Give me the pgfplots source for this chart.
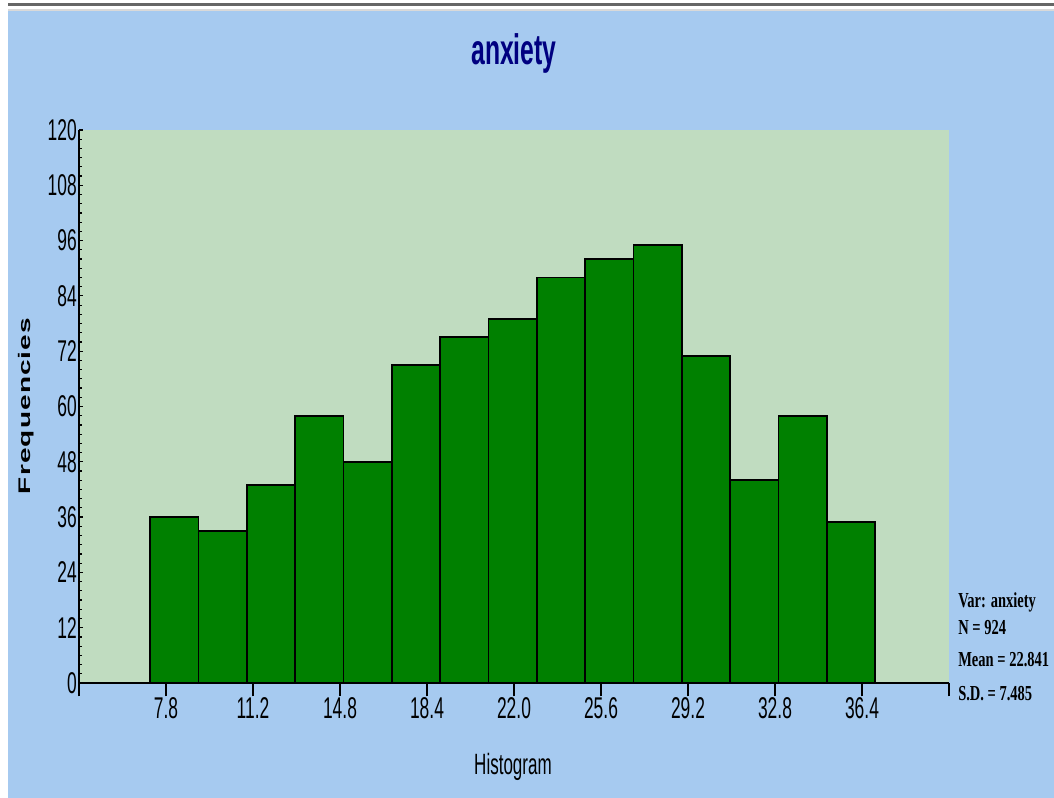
\documentclass[border=0pt]{standalone}
\usepackage{pgfplots}
\pgfplotsset{compat=1.18}
\usepackage{fontspec}
\setmainfont{Liberation Sans}
\newfontfamily\narrowsans[FakeStretch=0.58]{Liberation Sans}
\newfontfamily\spacedsans[LetterSpace=4]{Liberation Sans}
\newfontfamily\narrowserif[FakeStretch=0.68]{Liberation Serif}
\definecolor{skyblue}{HTML}{A6CAF0}
\definecolor{moneygreen}{HTML}{C0DCC0}
\definecolor{bargreen}{HTML}{008000}
\definecolor{navytitle}{HTML}{000080}
\pgfplotsset{
  basebox/.style={
    at={(59.25pt,86.25pt)}, anchor=south west,
    scale only axis, width=652.5pt, height=414.75pt,
    xmin=4.2, xmax=40.2, ymin=0, ymax=120,
    axis line style={black, line width=1.3pt},
    /pgf/number format/assume math mode=true,
    ticklabel style={font=\narrowsans\fontsize{22.5}{22.5}\selectfont, text=black},
    clip=false,
  }
}
\begin{document}
\begin{tikzpicture}
% page: 1054 x 798 px, 1 px = 0.75 pt
\fill[white] (0,0) rectangle (790.5pt,598.5pt);
\fill[skyblue] (6pt,0) rectangle (790.5pt,590pt);
\fill[gray!80!black] (6pt,594pt) rectangle (790.5pt,596pt);
\fill[gray!30] (6pt,590pt) rectangle (790.5pt,592pt);
\begin{axis}[
  basebox,
  axis background/.style={fill=moneygreen},
  axis x line*=bottom, axis y line=none,
  xtick={4.2,7.8,11.4,15.0,18.6,22.2,25.8,29.4,33.0,36.6,40.2},
  xticklabels={,7.8,11.2,14.8,18.4,22.0,25.6,29.2,32.8,36.4,},
  x tick style={black, line width=1pt},
  tick align=outside,
  major tick length=10pt,
  xticklabel style={inner ysep=1pt},
]
\addplot[ybar interval, fill=bargreen, draw=black, line width=1.3pt]
coordinates {
(7.15,36) (9.15,33) (11.15,43) (13.15,58) (15.15,48) (17.15,69)
(19.15,75) (21.15,79) (23.15,88) (25.15,92) (27.15,95) (29.15,71)
(31.15,44) (33.15,58) (35.15,35) (37.15,35)
};
\end{axis}
\begin{axis}[
  basebox,
  axis x line=none, axis y line*=left,
  ytick={0,12,...,120},
  minor y tick num=5,
  tick align=inside,
  major tick length=3pt,
  minor tick length=2pt,
  y tick style={black, line width=0.9pt},
  yticklabel style={inner xsep=1.5pt},
]
\addplot[draw=none, forget plot] coordinates {(4.2,0)};
\end{axis}
\node[anchor=base, text=navytitle, font=\narrowsans\bfseries\fontsize{32}{32}\selectfont] at (385.5pt,549.75pt) {anxiety};
\node[anchor=base, font=\narrowsans\fontsize{22}{22}\selectfont] at (384.75pt,17.25pt) {Histogram};
\node[rotate=90, anchor=center, font=\spacedsans\bfseries\fontsize{21}{21}\selectfont, inner sep=0pt] at (19.5pt,294pt) {\scalebox{1}[0.6]{Frequencies}};
\begin{scope}[every node/.style={anchor=base west, inner sep=0pt, font=\narrowserif\bfseries\fontsize{16}{16}\selectfont}]
\node at (718.5pt,142.5pt) {Var: anxiety};
\node at (718.5pt,122.25pt) {N = 924};
\node at (718.5pt,98.25pt) {Mean = 22.841};
\node at (718.5pt,72.75pt) {S.D. = 7.485};
\end{scope}
\pgfresetboundingbox
\useasboundingbox (0,0) rectangle (790.5pt,598.5pt);
\end{tikzpicture}
\end{document}
